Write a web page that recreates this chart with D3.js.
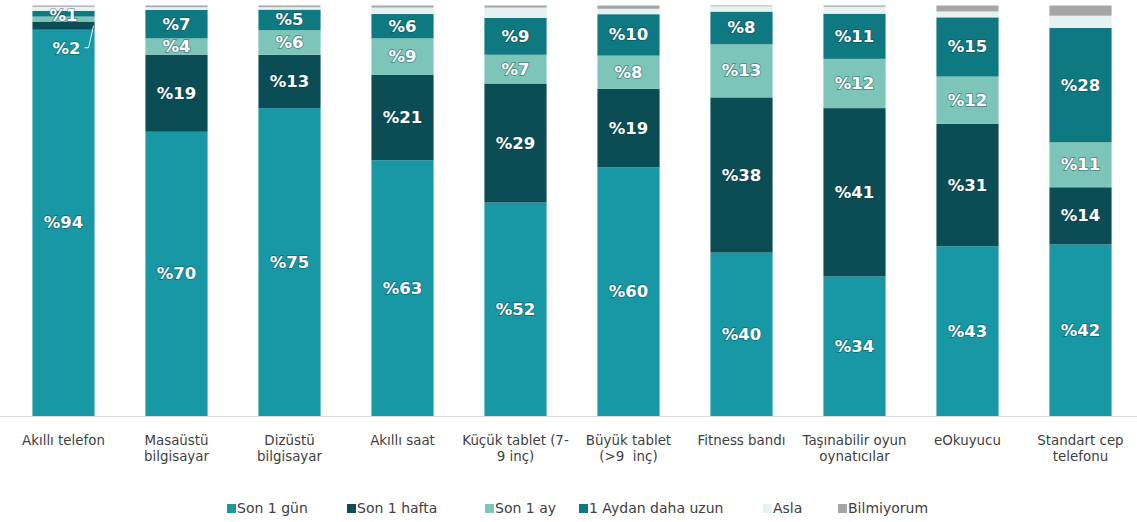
<!DOCTYPE html>
<html><head><meta charset="utf-8">
<script src="https://cdn.jsdelivr.net/npm/d3@7"></script>
<style>
html,body{margin:0;padding:0;background:#fff;}
svg{display:block;}
.cat{font-family:"DejaVu Sans",sans-serif;font-size:13.4px;fill:#404040;white-space:pre;}
.leg{font-family:"DejaVu Sans",sans-serif;font-size:14px;fill:#404040;}
.val{font-family:"DejaVu Sans",sans-serif;font-weight:bold;font-size:16.5px;fill:#fff;paint-order:stroke;stroke:#0a3a40;stroke-opacity:0.4;stroke-width:1.8px;}
</style></head>
<body>
<svg id="chart" width="1137" height="522"></svg>
<script>
const categories = ["Akıllı telefon","Masaüstü\nbilgisayar","Dizüstü\nbilgisayar","Akıllı saat","Küçük tablet (7-\n9 inç)","Büyük tablet\n(>9  inç)","Fitness bandı","Taşınabilir oyun\noynatıcılar","eOkuyucu","Standart cep\ntelefonu"];
const seriesNames = ["Son 1 gün","Son 1 hafta","Son 1 ay","1 Aydan daha uzun","Asla","Bilmiyorum"];
const son1gun   = [94,70,75,63,52,60,40,34,43,42];
const son1hafta = [2,19,13,21,29,19,38,41,31,14];
const son1ay    = [1.2,4,6,9,7,8,13,12,12,11];
const aydanUzun = [1.4,7,5,6,9,10,8,11,15,28];
const asla      = [1,0.7,0.6,1.6,2.5,1.3,1.3,1.7,1.5,3];
const bilmiyorum= [0.3,0.4,0.4,0.5,0.5,0.8,0.2,0.3,1.5,2.5];
const colors = ["#1898a5","#0a4d55","#7dc4b9","#0f7982","#e6f1f1","#a6a6a6"];
const labeledSeries = [0,1,2,3];
const minLabel = 4;
// small labels: [categoryIndex, seriesIndex, mode]
const extraLabels = [[0,3,"inside"],[0,1,"callout"]];

const W = 1137, H = 522;
const svg = d3.select("#chart");
const allSeries = [son1gun,son1hafta,son1ay,aydanUzun,asla,bilmiyorum];
const rows = categories.map((c,i)=>{const r={cat:c};seriesNames.forEach((s,j)=>r[s]=allSeries[j][i]);return r;});
const stack = d3.stack().keys(seriesNames).offset(d3.stackOffsetExpand);
const layers = stack(rows);

const x = d3.scaleBand().domain(categories).range([7,1137]).paddingInner(0.45).paddingOuter(0.225);
const y = d3.scaleLinear().domain([0,1]).range([416,5.5]);

// baseline
svg.append("line").attr("x1",0).attr("x2",W).attr("y1",y(0)+0.5).attr("y2",y(0)+0.5).attr("stroke","#d9d9d9").attr("stroke-width",1);

const g = svg.append("g");
layers.forEach((layer,si)=>{
  g.selectAll(null).data(layer).enter().append("rect")
    .attr("x",d=>x(d.data.cat)).attr("width",x.bandwidth())
    .attr("y",d=>y(d[1])).attr("height",d=>Math.max(0,y(d[0])-y(d[1])))
    .attr("fill",colors[si]);
});

// value labels
layers.forEach((layer,si)=>{
  if(!labeledSeries.includes(si)) return;
  layer.forEach((d,ci)=>{
    const v = allSeries[si][ci];
    const extra = extraLabels.find(e=>e[0]===ci&&e[1]===si);
    if(v<minLabel && !extra) return;
    const cx = x(d.data.cat)+x.bandwidth()/2;
    const cy = (y(d[0])+y(d[1]))/2;
    if(extra && extra[2]==="callout"){
      const ly = y(d[0])+19;
      svg.append("polyline").attr("points",[[cx+21,ly-1],[cx+25,ly-1],[x(d.data.cat)+x.bandwidth()-1,cy]].map(p=>p.join(",")).join(" "))
        .attr("fill","none").attr("stroke","#e8eeee").attr("stroke-width",1);
      svg.append("text").attr("class","val").attr("x",cx+3).attr("y",ly).attr("text-anchor","middle").attr("dominant-baseline","central").text("%"+Math.round(v));
      return;
    }
    svg.append("text").attr("class","val").attr("x",cx).attr("y",cy+(extra?1.5:0)).attr("text-anchor","middle").attr("dominant-baseline","central").text("%"+Math.round(v));
  });
});

// category labels
categories.forEach(c=>{
  const t = svg.append("text").attr("class","cat").attr("x",x(c)+x.bandwidth()/2).attr("y",445).attr("text-anchor","middle");
  c.split("\n").forEach((line,i)=>t.append("tspan").attr("x",x(c)+x.bandwidth()/2).attr("dy",i===0?0:16).text(line));
});

// legend
const legX = [227,347,485,579,763,838];
seriesNames.forEach((s,i)=>{
  svg.append("rect").attr("x",legX[i]).attr("y",504).attr("width",9).attr("height",9).attr("fill",colors[i]);
  svg.append("text").attr("class","leg").attr("x",legX[i]+10).attr("y",513).text(s);
});
</script>
</body></html>
